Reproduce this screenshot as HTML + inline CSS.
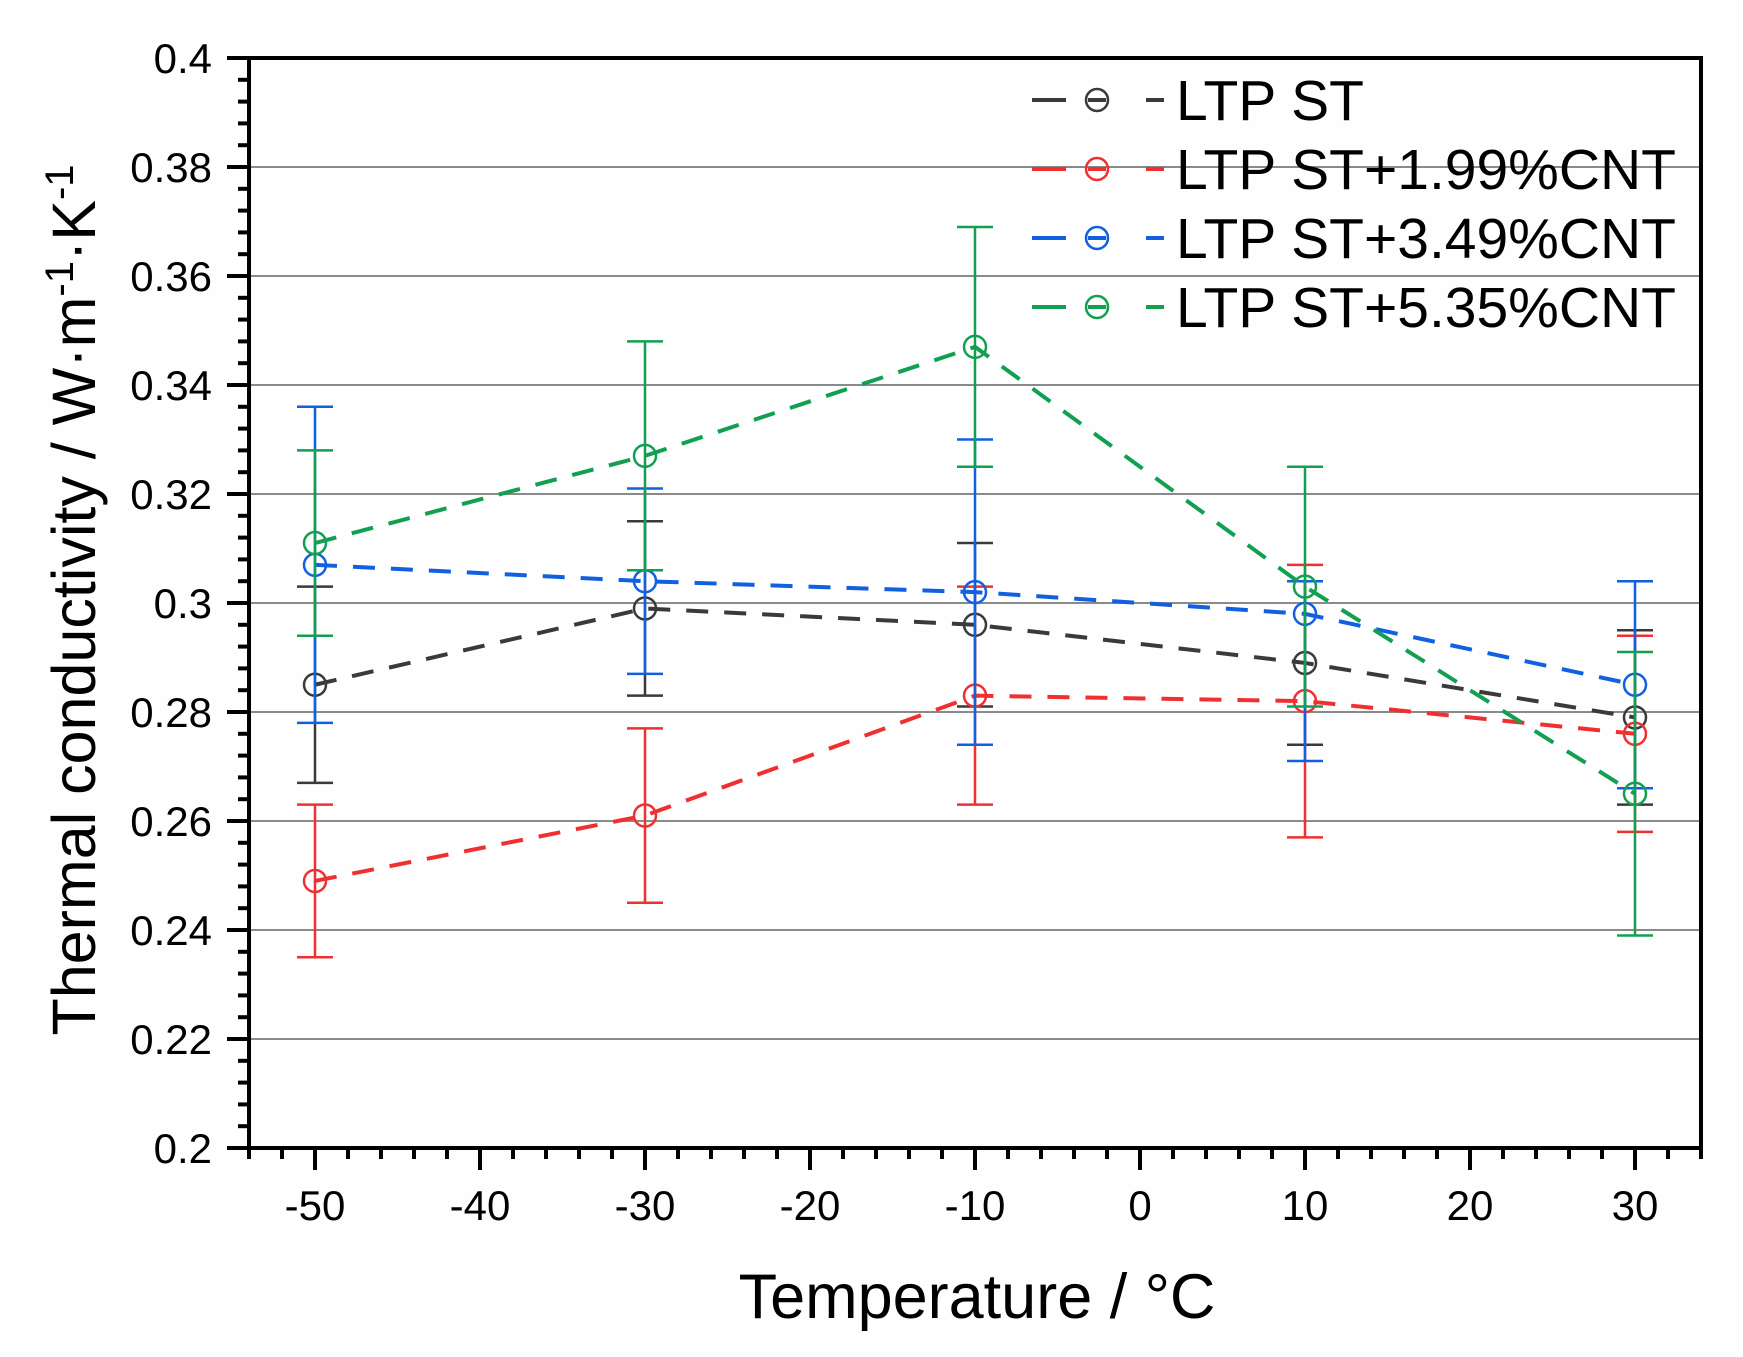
<!DOCTYPE html>
<html><head><meta charset="utf-8"><style>
html,body{margin:0;padding:0;background:#fff;}
svg{display:block;font-family:"Liberation Sans",Arial,sans-serif;}
</style></head><body>
<svg id="chart" width="1743" height="1357" viewBox="0 0 1743 1357">
<rect width="1743" height="1357" fill="#fefefe"/>
<g id="grid"></g>
<g id="series"></g>
<g id="axes"></g>
<g id="legend"></g>
<text x="95" y="600" transform="rotate(-90 95 600)" text-anchor="middle" font-size="61" fill="#000">Thermal conductivity / W·m<tspan baseline-shift="super" font-size="40">-1</tspan>·K<tspan baseline-shift="super" font-size="40">-1</tspan></text>
<text x="977" y="1318" text-anchor="middle" font-size="63" fill="#000">Temperature / °C</text>
</svg>
<script>
const temps = [-50, -30, -10, 10, 30];
const seriesNames = ["LTP ST", "LTP ST+1.99%CNT", "LTP ST+3.49%CNT", "LTP ST+5.35%CNT"];
const seriesColors = ["#3a3a3a", "#f03030", "#1060e0", "#10a050"];
const valsST = [0.285, 0.299, 0.296, 0.289, 0.279];
const hiST = [0.303, 0.315, 0.311, 0.304, 0.295];
const loST = [0.267, 0.283, 0.281, 0.274, 0.263];
const vals199 = [0.249, 0.261, 0.283, 0.282, 0.276];
const hi199 = [0.263, 0.277, 0.303, 0.307, 0.294];
const lo199 = [0.235, 0.245, 0.263, 0.257, 0.258];
const vals349 = [0.307, 0.304, 0.302, 0.298, 0.285];
const hi349 = [0.336, 0.321, 0.330, 0.304, 0.304];
const lo349 = [0.278, 0.287, 0.274, 0.271, 0.266];
const vals535 = [0.311, 0.327, 0.347, 0.303, 0.265];
const hi535 = [0.328, 0.348, 0.369, 0.325, 0.291];
const lo535 = [0.294, 0.306, 0.325, 0.281, 0.239];
const yTicks = [0.2, 0.22, 0.24, 0.26, 0.28, 0.3, 0.32, 0.34, 0.36, 0.38, 0.4];
const yTickLabels = ["0.2","0.22","0.24","0.26","0.28","0.3","0.32","0.34","0.36","0.38","0.4"];
const xTicks = [-50, -40, -30, -20, -10, 0, 10, 20, 30];

const L=249, R=1701, T=58, B=1148, XMIN=-54, XMAX=34, YMIN=0.2, YMAX=0.4;
const sx = v => L + (v - XMIN) / (XMAX - XMIN) * (R - L);
const sy = v => B - (v - YMIN) / (YMAX - YMIN) * (B - T);
const NS = "http://www.w3.org/2000/svg";
function mk(tag, attrs, parent){const e=document.createElementNS(NS,tag);for(const k in attrs)e.setAttribute(k,attrs[k]);parent.appendChild(e);return e;}
const grid=document.getElementById('grid'), axes=document.getElementById('axes'), ser=document.getElementById('series'), leg=document.getElementById('legend');

yTicks.forEach((t,i)=>{
  if(i>0 && i<yTicks.length-1){
    const g=mk('line',{x1:L,x2:R,y1:sy(t),y2:sy(t),stroke:'#8a8a8a','stroke-width':2},grid);
    
    
  }
});
const fr=mk('rect',{x:L,y:T,width:R-L,height:B-T,fill:'none',stroke:'#000','stroke-width':4},axes);


for(let v=YMIN; v<=YMAX+1e-9; v+=0.004){
  const major=Math.abs(Math.round(v/0.02)*0.02 - v)<1e-6;
  const tk=mk('line',{x1:L-(major?22:11),x2:L,y1:sy(v),y2:sy(v),stroke:'#000','stroke-width':4},axes);
  
  
}
yTicks.forEach((t,i)=>{
  const tx=mk('text',{x:212,y:sy(t)+15,'text-anchor':'end','font-size':42,fill:'#000'},axes);
  tx.textContent=yTickLabels[i];
  
  
});
for(let v=-54; v<=34; v+=2){
  const major=(v%10===0);
  const tk=mk('line',{x1:sx(v),x2:sx(v),y1:B,y2:B+(major?22:11),stroke:'#000','stroke-width':4},axes);
  
  
}
xTicks.forEach(t=>{
  const tx=mk('text',{x:sx(t),y:1220,'text-anchor':'middle','font-size':42,fill:'#000'},axes);
  tx.textContent=String(t);
  
  
});
const allVals=[valsST,vals199,vals349,vals535], allHi=[hiST,hi199,hi349,hi535], allLo=[loST,lo199,lo349,lo535];
allVals.forEach((vals,si)=>{
  const c=seriesColors[si];
  const g=mk('g',{},ser);
  
  
  temps.forEach((t,i)=>{
    const x=sx(t);
    const eb=mk('path',{d:`M${x},${sy(allHi[si][i])}V${sy(allLo[si][i])}M${x-18},${sy(allHi[si][i])}h36M${x-18},${sy(allLo[si][i])}h36`,stroke:c,'stroke-width':2.5,fill:'none'},g);
    
    
  });
  const pts=temps.map((t,i)=>sx(t)+','+sy(vals[i])).join(' ');
  const ln=mk('polyline',{points:pts,fill:'none',stroke:c,'stroke-width':4,'stroke-dasharray':'22,16'},g);
  
  
  temps.forEach((t,i)=>{
    const m=mk('circle',{cx:sx(t),cy:sy(vals[i]),r:11,fill:'none',stroke:c,'stroke-width':2.5},g);
    
    
  });
});
const legY=[100,169,238,307];
seriesNames.forEach((n,i)=>{
  const c=seriesColors[i], y=legY[i];
  const g=mk('g',{},leg);
  
  
  mk('path',{d:`M1032,${y}h34M1088,${y}h18M1146,${y}h18`,stroke:c,'stroke-width':4,fill:'none'},g);
  mk('circle',{cx:1097,cy:y,r:11,fill:'none',stroke:c,'stroke-width':2.5},g);
  const tx=mk('text',{x:1176,y:y+20,'font-size':57,fill:'#000'},g);
  tx.textContent=n;
});
</script>
</body></html>
